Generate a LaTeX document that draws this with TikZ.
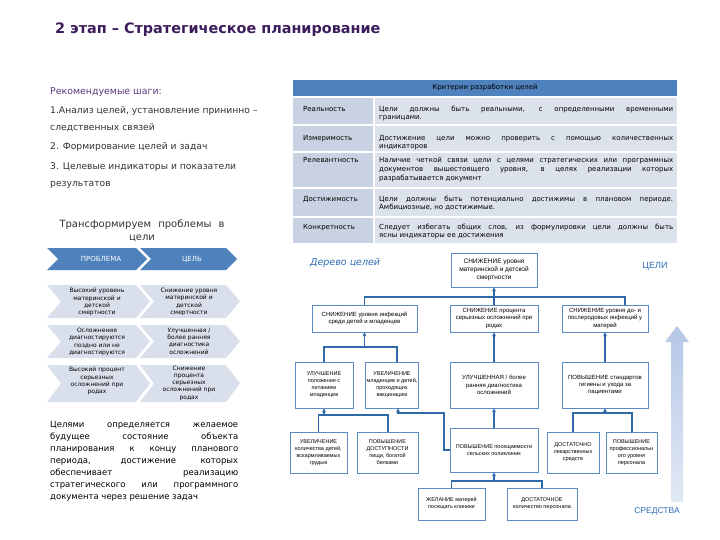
\documentclass[tikz,border=0pt]{standalone}
\usepackage{fontspec}
\setmainfont{DejaVu Sans}
\newfontfamily\treefont{Liberation Sans}
\usetikzlibrary{arrows.meta,shadows}
\definecolor{titlec}{HTML}{3D1C5C}
\definecolor{purp}{HTML}{5B3A7E}
\definecolor{txt}{HTML}{333333}
\definecolor{hblue}{HTML}{4F81BD}
\definecolor{lcol}{HTML}{C9D2E2}
\definecolor{rcol}{HTML}{DCE2EC}
\definecolor{chevc}{HTML}{D9E0EC}
\definecolor{lineb}{HTML}{3069A8}
\definecolor{boxb}{HTML}{5B8BC4}
\definecolor{labb}{HTML}{2E6DB4}
\definecolor{arrt}{HTML}{B5C7E6}
\definecolor{arrb}{HTML}{E2E9F5}
\newcommand\fs[2]{\fontsize{#1}{#2}\selectfont}
\newcommand\jl[2]{\makebox[#1][s]{#2}}
\newcommand\chev[6]{\fill[#6] (#1,#3) -- ({#2-#5},#3) -- (#2,{(#3+#4)/2}) -- ({#2-#5},#4) -- (#1,#4) -- ({#1+#5},{(#3+#4)/2}) -- cycle;}
\tikzset{
  treebox/.style={draw=boxb, line width=0.8pt, fill=white, align=center, text=black,
    font=\treefont\fs{6}{7.4}, inner sep=1pt,
    drop shadow={shadow xshift=1pt, shadow yshift=-1pt, opacity=0.2}},
  small/.style={font=\treefont\fs{5.5}{7}},
  lnk/.style={draw=lineb, line width=1.2pt},
  arr/.style={lnk, -{Stealth[length=4pt,width=4pt]}},
  steptext/.style={anchor=mid west, text=txt, font=\fs{9.2}{11}, inner sep=0},
  chevtext/.style={align=center, text=black, font=\fs{6}{7.3}, inner sep=0},
  tabtext/.style={anchor=mid west, text=black, font=\fs{7}{8}, inner sep=0},
  partext/.style={anchor=mid west, text=black, font=\fs{8.5}{10}, inner sep=0},
}
\begin{document}
\begin{tikzpicture}[x=1pt,y=-1pt]
\useasboundingbox[fill=white] (0,0) rectangle (720,540);

% title
\node[anchor=mid west, text=titlec, font=\bfseries\fs{14.4}{16}, inner sep=0] (title) at (55,31) {2 этап – Стратегическое планирование};

% steps
\node[steptext, text=purp, font=\fs{9.4}{11}] (rec) at (50,92) {Рекомендуемые шаги:};
\node[steptext] (s1a) at (50,111) {1.Анализ целей, установление прининно –};
\node[steptext] (s1b) at (50,128) {следственных связей};
\node[steptext] (s2) at (50,147) {2. Формирование целей и задач};
\node[steptext] (s3a) at (50,167) {3. Целевые индикаторы и показатели};
\node[steptext] (s3b) at (50,184) {результатов};

% transform title
\node[anchor=mid, text=txt, font=\fs{10}{12}, inner sep=0] (tr1) at (142,225) {\jl{165pt}{Трансформируем проблемы в}};
\node[anchor=mid, text=txt, font=\fs{10}{12}, inner sep=0] (tr2) at (142,238) {цели};

% chevrons
\chev{47}{147}{248}{270}{11}{hblue}
\chev{140}{237}{248}{270}{11}{hblue}
\node[chevtext, text=white, font=\fs{7}{8}] (hp) at (101,259) {ПРОБЛЕМА};
\node[chevtext, text=white, font=\fs{7}{8}] (hc) at (192,259) {ЦЕЛЬ};

\chev{47}{150}{285}{318}{14}{chevc}
\chev{140}{240}{285}{318}{14}{chevc}
\chev{47}{150}{325}{358}{14}{chevc}
\chev{140}{240}{325}{358}{14}{chevc}
\chev{47}{150}{365}{402}{14}{chevc}
\chev{140}{240}{365}{402}{14}{chevc}
\node[chevtext] (p1) at (97,302) {Высокий уровень\\материнской и\\детской\\смертности};
\node[chevtext] (c1) at (189,302) {Снижение уровня\\материнской и\\детской\\смертности};
\node[chevtext] (p2) at (97,342) {Осложнения\\диагностируются\\поздно или не\\диагностируются};
\node[chevtext] (c2) at (189,341) {Улучшенная /\\более ранняя\\диагностика\\осложнений};
\node[chevtext] (p3) at (97,381) {Высокий процент\\серьезных\\осложнений при\\родах};
\node[chevtext] (c3) at (189,383) {Снижение\\процента\\серьезных\\осложнений при\\родах};

% paragraph
\node[partext] (q1) at (50,425) {\jl{188pt}{Целями определяется желаемое}};
\node[partext] (q2) at (50,437) {\jl{188pt}{будущее состояние объекта}};
\node[partext] (q3) at (50,449) {\jl{188pt}{планирования к концу планового}};
\node[partext] (q4) at (50,461) {\jl{188pt}{периода, достижение которых}};
\node[partext] (q5) at (50,473) {\jl{188pt}{обеспечивает реализацию}};
\node[partext] (q6) at (50,485) {\jl{188pt}{стратегического или программного}};
\node[partext] (q7) at (50,497) {документа через решение задач};

% criteria table
\fill[hblue] (293,80) rectangle (677,96);
\node[font=\fs{7}{8}, text=black, inner sep=0] (hdr) at (485,88) {Критерии разработки целей};
\fill[lcol] (293,98) rectangle (373,124);  \fill[rcol] (375,98) rectangle (677,124);
\fill[lcol] (293,126) rectangle (373,151); \fill[rcol] (375,126) rectangle (677,151);
\fill[lcol] (293,153) rectangle (373,187); \fill[rcol] (375,153) rectangle (677,187);
\fill[lcol] (293,189) rectangle (373,216); \fill[rcol] (375,189) rectangle (677,216);
\fill[lcol] (293,218) rectangle (373,243); \fill[rcol] (375,218) rectangle (677,243);

\node[tabtext] (k1) at (303,109) {Реальность};
\node[tabtext] (k2) at (303,138) {Измеримость};
\node[tabtext] (k3) at (303,160) {Релевантность};
\node[tabtext] (k4) at (303,199) {Достижимость};
\node[tabtext] (k5) at (303,227) {Конкретность};

\node[tabtext] (t1a) at (379,109) {\jl{294pt}{Цели должны быть реальными, с определенными временными}};
\node[tabtext] (t1b) at (379,117) {границами.};
\node[tabtext] (t2a) at (379,138) {\jl{294pt}{Достижение цели можно проверить с помощью количественных}};
\node[tabtext] (t2b) at (379,146) {индикаторов};
\node[tabtext] (t3a) at (379,160) {\jl{294pt}{Наличие четкой связи цели с целями стратегических или программных}};
\node[tabtext] (t3b) at (379,169) {\jl{294pt}{документов вышестоящего уровня, в целях реализации которых}};
\node[tabtext] (t3c) at (379,178) {разрабатывается документ};
\node[tabtext] (t4a) at (379,199) {\jl{294pt}{Цели должны быть потенциально достижимы в плановом периоде.}};
\node[tabtext] (t4b) at (379,207) {Амбициозные, но достижимые.};
\node[tabtext] (t5a) at (379,227) {\jl{294pt}{Следует избегать общих слов, из формулировки цели должны быть}};
\node[tabtext] (t5b) at (379,235) {ясны индикаторы ее достижения};

% tree labels
\node[anchor=mid west, text=labb, font=\itshape\fs{9.5}{11}, inner sep=0] (dt) at (310,263) {Дерево целей};
\node[text=labb, font=\treefont\fs{9}{10}, inner sep=0] (goals) at (655,266) {ЦЕЛИ};
\node[text=labb, font=\treefont\fs{8.5}{10}, inner sep=0] (means) at (657,511) {СРЕДСТВА};

% big arrow
\shade[top color=arrt, bottom color=arrb] (671,502) -- (671,342) -- (665,342) -- (677,326) -- (689,342) -- (683,342) -- (683,502) -- cycle;

% tree boxes
\node[treebox, font=\treefont\fs{6.5}{8}, minimum width=86, minimum height=34] (top) at (494,270) {СНИЖЕНИЕ уровня\\материнской и детской\\смертности};
\node[treebox, minimum width=105, minimum height=27] (B1) at (364.5,318.5) {СНИЖЕНИЕ уровня инфекций\\среди детей и младенцев};
\node[treebox, minimum width=88, minimum height=27] (B2) at (494,318.5) {СНИЖЕНИЕ процента\\серьезных осложнений при\\родах};
\node[treebox, minimum width=86, minimum height=27] (B3) at (605,318.5) {СНИЖЕНИЕ уровня до- и\\послеродовых инфекций у\\матерей};

\node[treebox, small, minimum width=58, minimum height=46] (A) at (324,385) {УЛУЧШЕНИЕ\\положения с\\питанием\\младенцев};
\node[treebox, small, minimum width=52, minimum height=46] (B) at (392,385) {УВЕЛИЧЕНИЕ\\младенцев и детей,\\проходящих\\вакцинацию};
\node[treebox, minimum width=88, minimum height=46] (C) at (494,385) {УЛУЧШЕННАЯ / более\\ранняя диагностика\\осложнений};
\node[treebox, minimum width=86, minimum height=46] (D) at (605,385) {ПОВЫШЕНИЕ стандартов\\гигиены и ухода за\\пациентами};

\node[treebox, small, minimum width=57, minimum height=41] (L1) at (318.5,452.5) {УВЕЛИЧЕНИЕ\\количества детей,\\вскармливаемых\\грудью};
\node[treebox, small, minimum width=61, minimum height=41] (L2) at (387.5,452.5) {ПОВЫШЕНИЕ\\ДОСТУПНОСТИ\\пищи, богатой\\белками};
\node[treebox, small, minimum width=88, minimum height=44] (L3) at (494,450) {ПОВЫШЕНИЕ посещаемости\\сельских поликлиник};
\node[treebox, small, minimum width=52, minimum height=41] (L4) at (573,452.5) {ДОСТАТОЧНО\\лекарственных\\средств};
\node[treebox, small, minimum width=51, minimum height=41] (L5) at (631.5,452.5) {ПОВЫШЕНИЕ\\профессиональн\\ого уровня\\персонала};

\node[treebox, small, minimum width=67, minimum height=32] (M1) at (451.5,504) {ЖЕЛАНИЕ матерей\\посещать клиники};
\node[treebox, small, minimum width=70, minimum height=32] (M2) at (542,504) {ДОСТАТОЧНОЕ\\количество персонала};

% connectors
\coordinate (j1) at (625,297);
\draw[lnk] (B1.north) |- (j1) -- (B3.north -| j1);
\draw[arr] (B2.north) -- (top.south);

\coordinate (j2) at (397,347);
\draw[lnk] (A.north) |- (j2) -- (B.north -| j2);
\draw[arr] (B1.south |- j2) -- (B1.south);

\draw[arr] (C.north) -- (B2.south);
\draw[arr] (D.north) -- (B3.south);

\coordinate (j3) at (388,415);
\draw[lnk] (L1.north) |- (j3) -- (L2.north -| j3);
\draw[arr] (A.south |- j3) -- (A.south);

\coordinate (j4) at (444,413);
\coordinate (j5) at (398,413);
\draw[arr] (L3.west) -- (L3.west -| j4) -- (j4) -- (j5) -- (j5 |- B.south);

\draw[arr] (L3.north) -- (C.south);

\coordinate (j6) at (632,413);
\draw[lnk] (L4.north) |- (j6) -- (L5.north -| j6);
\draw[arr] (D.south |- j6) -- (D.south);

\coordinate (j7) at (542,481);
\draw[lnk] (M1.north) |- (j7) -- (M2.north -| j7);
\draw[arr] (L3.south |- j7) -- (L3.south);
\end{tikzpicture}
\end{document}
